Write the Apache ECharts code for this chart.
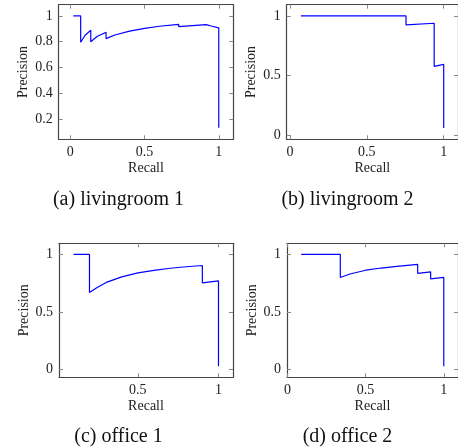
<!DOCTYPE html>
<html>
<head>
<meta charset="utf-8">
<script src="https://cdn.jsdelivr.net/npm/echarts@6/dist/echarts.min.js"></script>
<style>
  html, body { margin: 0; padding: 0; background: #fff; }
  #chart { width: 458px; height: 448px; }
</style>
</head>
<body>
<div id="chart"></div>
<script>
// precision / recall curves
var recallA = [0.02, 0.07, 0.07, 0.10, 0.138, 0.138, 0.18, 0.241, 0.241, 0.30, 0.40, 0.50, 0.60, 0.73, 0.73, 0.915, 0.915, 0.949, 0.949, 1.0, 1.0];
var precisionA = [1.0, 1.0, 0.796, 0.85, 0.889, 0.80, 0.84, 0.873, 0.824, 0.852, 0.882, 0.903, 0.92, 0.935, 0.917, 0.933, 0.922, 0.922, 0.907, 0.907, 0.133];

var recallB = [0.072, 0.755, 0.755, 0.938, 0.938, 1.0, 1.0];
var precisionB = [1.0, 1.0, 0.924, 0.938, 0.576, 0.593, 0.059];

var recallC = [0.101, 0.20, 0.20, 0.25, 0.304, 0.40, 0.50, 0.60, 0.70, 0.80, 0.90, 0.90, 1.0, 1.0];
var precisionC = [1.0, 1.0, 0.67, 0.715, 0.757, 0.805, 0.84, 0.862, 0.88, 0.893, 0.904, 0.753, 0.77, 0.029];

var recallD = [0.088, 0.338, 0.338, 0.40, 0.50, 0.60, 0.70, 0.833, 0.833, 0.916, 0.916, 1.0, 1.0];
var precisionD = [1.0, 1.0, 0.80, 0.83, 0.863, 0.882, 0.897, 0.913, 0.835, 0.849, 0.788, 0.80, 0.029];

var xTicksA = [0, 0.5, 1], yTicksA = [0.2, 0.4, 0.6, 0.8, 1];
var xTicksB = [0, 0.5, 1], yTicksB = [0, 0.5, 1];
var xTicksC = [0.5, 1],    yTicksC = [0, 0.5, 1];
var xTicksD = [0, 0.5, 1], yTicksD = [0, 0.5, 1];

var captions = ['(a) livingroom 1', '(b) livingroom 2', '(c) office 1', '(d) office 2'];

var myChart = echarts.init(document.getElementById('chart'));

var font = 'Liberation Serif';
var grids = [], xAxes = [], yAxes = [], series = [];

function zip(xs, ys) {
  return xs.map(function (x, i) { return [x, ys[i]]; });
}

function axis(pos, range, ticks, labels, name, gap) {
  return {
    type: 'value',
    position: pos,
    min: range[0],
    max: range[1],
    name: name || '',
    nameLocation: 'middle',
    nameGap: gap || 0,
    nameTextStyle: { fontFamily: font, fontSize: 14, color: '#222' },
    splitLine: { show: false },
    axisLine: { show: true, onZero: false, lineStyle: { color: '#444', width: 1.2 } },
    axisTick: { show: true, inside: true, length: 4, customValues: ticks, lineStyle: { color: '#888', width: 1 } },
    axisLabel: { show: labels, customValues: ticks, margin: 6, fontFamily: font, fontSize: 14, color: '#222' }
  };
}

// 每个子图: 网格位置, 坐标范围, 刻度
function panel(box, xr, yr, xt, yt, xs, ys) {
  var i = grids.length;
  grids.push({ left: box[0], top: box[1], width: box[2], height: box[3] });
  var xb = axis('bottom', xr, xt, true, 'Recall', 22);
  var xtp = axis('top', xr, xt, false);
  var yl = axis('left', yr, yt, true, 'Precision', 28);
  var yr2 = axis('right', yr, yt, false);
  xb.gridIndex = i; xtp.gridIndex = i; yl.gridIndex = i; yr2.gridIndex = i;
  xAxes.push(xb, xtp);
  yAxes.push(yl, yr2);
  series.push({
    type: 'line',
    xAxisIndex: 2 * i,
    yAxisIndex: 2 * i,
    symbol: 'none',
    lineStyle: { color: '#0000ff', width: 1.2 },
    data: zip(xs, ys)
  });
}

panel([58.7, 4.7, 174.6, 134.6], [-0.078, 1.098], [0.043, 1.087], xTicksA, yTicksA, recallA, precisionA);
panel([286.7, 4.7, 174.6, 134.6], [-0.021, 1.093], [-0.037, 1.094], xTicksB, yTicksB, recallB, precisionB);
panel([59, 243.3, 174, 134], [0.011, 1.09], [-0.068, 1.097], xTicksC, yTicksC, recallC, precisionC);
panel([287, 243.3, 174, 134], [-0.003, 1.091], [-0.068, 1.097], xTicksD, yTicksD, recallD, precisionD);

var capPos = [[118.5, 200], [347.5, 200], [118.5, 437], [347.5, 437]];
var graphic = captions.map(function (t, i) {
  return {
    type: 'text',
    x: capPos[i][0],
    y: capPos[i][1],
    style: { text: t, font: '20px "' + font + '"', fill: '#111', textAlign: 'center', textVerticalAlign: 'middle' }
  };
});

var option = {
  animation: false,
  backgroundColor: '#fff',
  grid: grids,
  xAxis: xAxes,
  yAxis: yAxes,
  series: series,
  graphic: graphic
};

myChart.setOption(option);
</script>
</body>
</html>
